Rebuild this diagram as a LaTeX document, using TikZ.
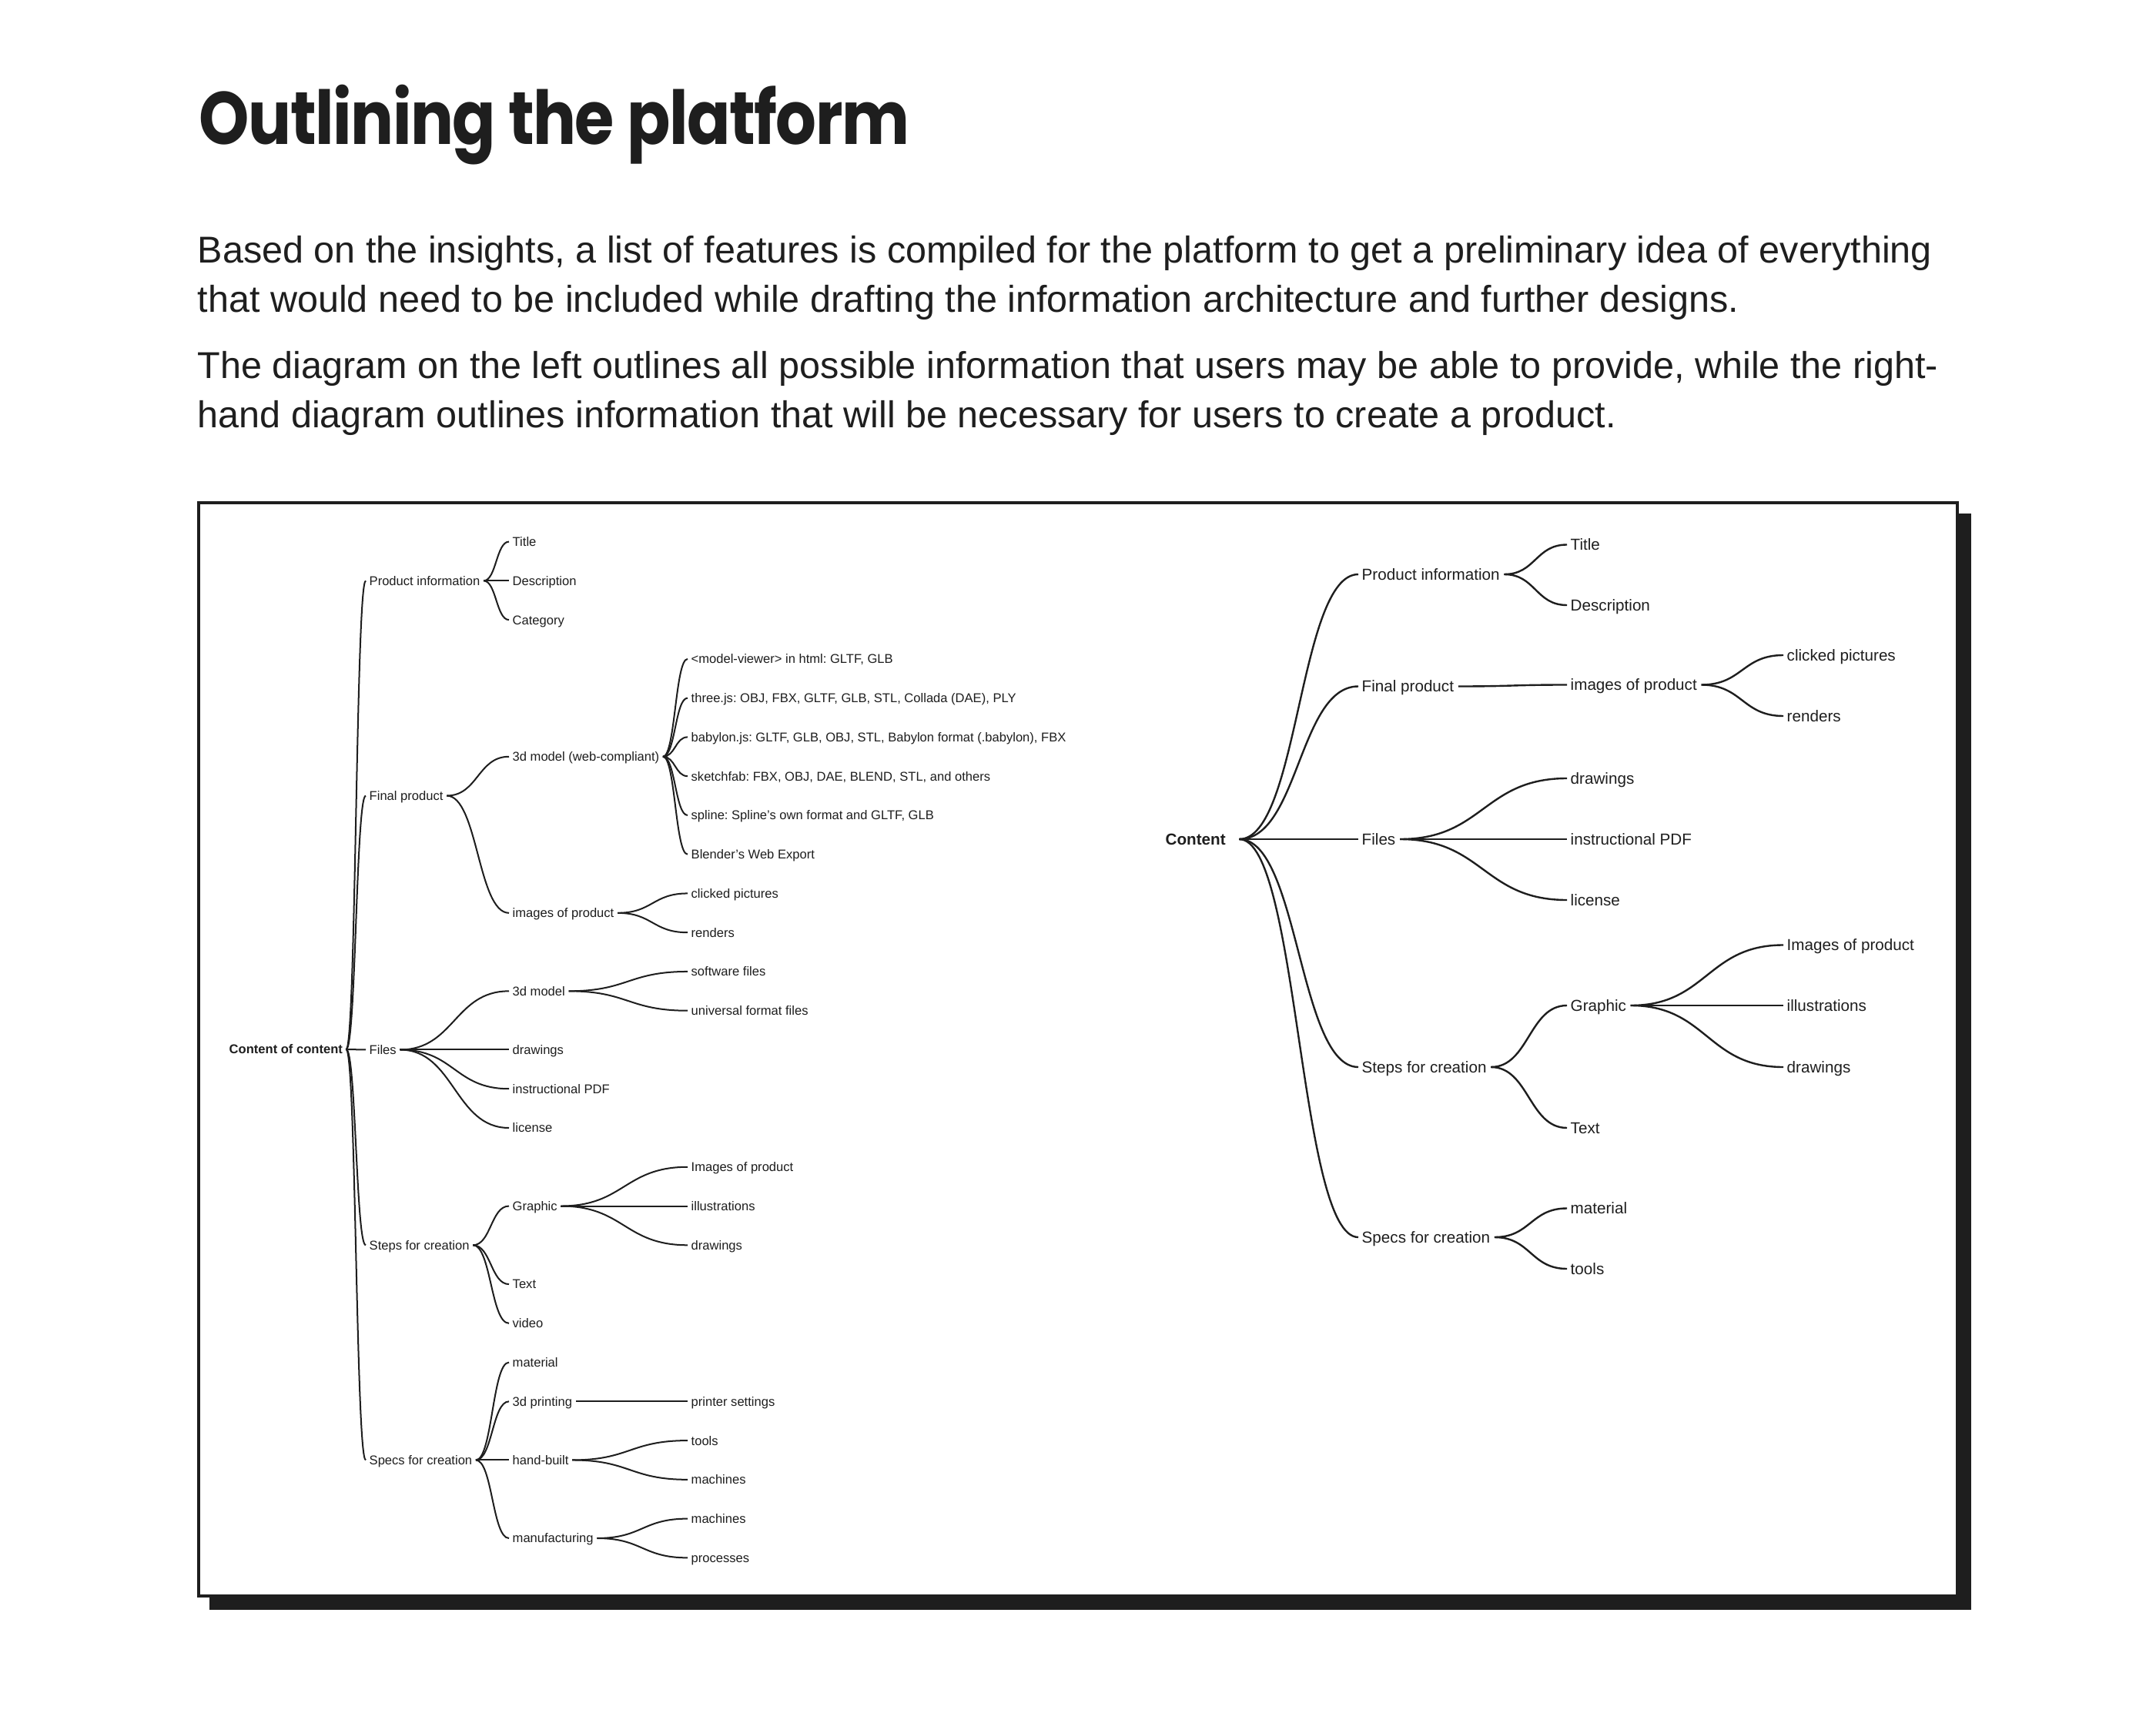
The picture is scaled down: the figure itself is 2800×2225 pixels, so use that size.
\documentclass[tikz,border=0pt]{standalone}
\usepackage{fontspec}
\setmainfont{Liberation Sans}
\newfontfamily\titlefont[FakeStretch=0.86, LetterSpace=-1.5]{Poppins}
\usetikzlibrary{calc}
\definecolor{ink}{HTML}{1E1E1E}
\newcommand\ry[1]{703.6+50.76*(#1)}
\newcommand\lnk[3][4]{\draw[link] let \p1=($(#2.east)+(#1,0)$), \p2=($(#3.west)+(-4,0)$) in (\p1) .. controls ({(\x1+\x2)/2},\y1) and ({(\x1+\x2)/2},\y2) .. (\p2);}
\tikzset{
  body/.style={anchor=base west, inner sep=0, text=ink, font=\fontsize{13.8pt}{16pt}\selectfont},
  lt/.style={anchor=west, inner sep=0, text=ink, text height=3.37pt, text depth=0pt, font=\fontsize{4.71pt}{5.5pt}\selectfont},
  rt/.style={anchor=west, inner sep=0, text=ink, text height=4.2pt, text depth=0pt, font=\fontsize{5.87pt}{7pt}\selectfont},
}
\frenchspacing
\begin{document}
\frenchspacing
\begin{tikzpicture}[x=0.01cm,y=-0.01cm]
\useasboundingbox[fill=white] (0,0) rectangle (2800,2225);
% heading and text
\node[anchor=base west, inner sep=0, text=ink] (title) at (258,188) {\resizebox{9.22cm}{!}{\titlefont\bfseries Outlining the platform}};
\node[body] (p1) at (256,342) {Based on the insights, a list of features is compiled for the platform to get a preliminary idea of everything};
\node[body] (p2) at (256,406) {that would need to be included while drafting the information architecture and further designs.};
\node[body] (p3) at (256,492) {The diagram on the left outlines all possible information that users may be able to provide, while the right-};
\node[body] (p4) at (256,556) {hand diagram outlines information that will be necessary for users to create a product.};
% frame with shadow
\fill[ink] (272,667) rectangle (2560,2091);
\draw[ink, line width=1.138pt, fill=white] (258,653) rectangle (2542,2073);

% ---------- left tree ----------
\begin{scope}[link/.style={draw=ink, line width=0.57pt}]
\node[lt, font=\fontsize{4.71pt}{5.5pt}\selectfont\bfseries] (L0) at (297,1363) {Content of content};
\node[lt] (Lpi) at (479,{\ry{1}}) {Product information};
\node[lt] (Lfp) at (479,{\ry{6.5}}) {Final product};
\node[lt] (Lfi) at (479,{\ry{13}}) {Files};
\node[lt] (Lst) at (479,{\ry{18}}) {Steps for creation};
\node[lt] (Lsp) at (479,{\ry{23.5}}) {Specs for creation};
% level 2
\node[lt] (Ltitle) at (665,{\ry{0}}) {Title};
\node[lt] (Ldesc) at (665,{\ry{1}}) {Description};
\node[lt] (Lcat) at (665,{\ry{2}}) {Category};
\node[lt] (Lweb) at (665,{\ry{5.5}}) {3d model (web-compliant)};
\node[lt] (Limg) at (665,{\ry{9.5}}) {images of product};
\node[lt] (L3dm) at (665,{\ry{11.5}}) {3d model};
\node[lt] (Ldraw) at (665,{\ry{13}}) {drawings};
\node[lt] (Lpdf) at (665,{\ry{14}}) {instructional PDF};
\node[lt] (Llic) at (665,{\ry{15}}) {license};
\node[lt] (Lgra) at (665,{\ry{17}}) {Graphic};
\node[lt] (Ltext) at (665,{\ry{19}}) {Text};
\node[lt] (Lvid) at (665,{\ry{20}}) {video};
\node[lt] (Lmat) at (665,{\ry{21}}) {material};
\node[lt] (Lprint) at (665,{\ry{22}}) {3d printing};
\node[lt] (Lhand) at (665,{\ry{23.5}}) {hand-built};
\node[lt] (Lman) at (665,{\ry{25.5}}) {manufacturing};
% level 3
\node[lt] (Lw1) at (897,{\ry{3}}) {<model-viewer> in html: GLTF, GLB};
\node[lt] (Lw2) at (897,{\ry{4}}) {three.js: OBJ, FBX, GLTF, GLB, STL, Collada (DAE), PLY};
\node[lt] (Lw3) at (897,{\ry{5}}) {babylon.js: GLTF, GLB, OBJ, STL, Babylon format (.babylon), FBX};
\node[lt] (Lw4) at (897,{\ry{6}}) {sketchfab: FBX, OBJ, DAE, BLEND, STL, and others};
\node[lt] (Lw5) at (897,{\ry{7}}) {spline: Spline's own format and GLTF, GLB};
\node[lt] (Lw6) at (897,{\ry{8}}) {Blender’s Web Export};
\node[lt] (Lclick) at (897,{\ry{9}}) {clicked pictures};
\node[lt] (Lrend) at (897,{\ry{10}}) {renders};
\node[lt] (Lsoft) at (897,{\ry{11}}) {software files};
\node[lt] (Luni) at (897,{\ry{12}}) {universal format files};
\node[lt] (Lgimg) at (897,{\ry{16}}) {Images of product};
\node[lt] (Lill) at (897,{\ry{17}}) {illustrations};
\node[lt] (Lgdraw) at (897,{\ry{18}}) {drawings};
\node[lt] (Lps) at (897,{\ry{22}}) {printer settings};
\node[lt] (Ltools) at (897,{\ry{23}}) {tools};
\node[lt] (Lmach1) at (897,{\ry{24}}) {machines};
\node[lt] (Lmach2) at (897,{\ry{25}}) {machines};
\node[lt] (Lproc) at (897,{\ry{26}}) {processes};
% links
\foreach \c in {Lpi,Lfp,Lfi,Lst,Lsp} {\lnk{L0}{\c}}
\foreach \c in {Ltitle,Ldesc,Lcat} {\lnk{Lpi}{\c}}
\foreach \c in {Lweb,Limg} {\lnk{Lfp}{\c}}
\foreach \c in {Lw1,Lw2,Lw3,Lw4,Lw5,Lw6} {\lnk{Lweb}{\c}}
\foreach \c in {Lclick,Lrend} {\lnk{Limg}{\c}}
\foreach \c in {L3dm,Ldraw,Lpdf,Llic} {\lnk{Lfi}{\c}}
\foreach \c in {Lsoft,Luni} {\lnk{L3dm}{\c}}
\foreach \c in {Lgra,Ltext,Lvid} {\lnk{Lst}{\c}}
\foreach \c in {Lgimg,Lill,Lgdraw} {\lnk{Lgra}{\c}}
\foreach \c in {Lmat,Lprint,Lhand,Lman} {\lnk{Lsp}{\c}}
\lnk{Lprint}{Lps}
\foreach \c in {Ltools,Lmach1} {\lnk{Lhand}{\c}}
\foreach \c in {Lmach2,Lproc} {\lnk{Lman}{\c}}
\end{scope}

% ---------- right tree ----------
\begin{scope}[link/.style={draw=ink, line width=0.68pt}]
\node[rt, font=\fontsize{5.87pt}{7pt}\selectfont\bfseries] (R0) at (1513,1090) {Content};
\node[rt] (Rpi) at (1768,746) {Product information};
\node[rt] (Rfp) at (1768,891.5) {Final product};
\node[rt] (Rfi) at (1768,1090) {Files};
\node[rt] (Rst) at (1768,1386) {Steps for creation};
\node[rt] (Rsp) at (1768,1607) {Specs for creation};
\node[rt] (Rtitle) at (2039,707.5) {Title};
\node[rt] (Rdesc) at (2039,786) {Description};
\node[rt] (Rimg) at (2039,889.5) {images of product};
\node[rt] (Rdraw) at (2039,1011) {drawings};
\node[rt] (Rpdf) at (2039,1090) {instructional PDF};
\node[rt] (Rlic) at (2039,1169) {license};
\node[rt] (Rgra) at (2039,1306) {Graphic};
\node[rt] (Rtext) at (2039,1465) {Text};
\node[rt] (Rmat) at (2039,1569.5) {material};
\node[rt] (Rtools) at (2039,1648) {tools};
\node[rt] (Rclick) at (2320,851) {clicked pictures};
\node[rt] (Rrend) at (2320,930) {renders};
\node[rt] (Rgimg) at (2320,1227.5) {Images of product};
\node[rt] (Rill) at (2320,1306) {illustrations};
\node[rt] (Rgdraw) at (2320,1386) {drawings};
\foreach \c in {Rpi,Rfp,Rfi,Rst,Rsp} {\lnk[17]{R0}{\c}}
\foreach \c in {Rtitle,Rdesc} {\lnk[5]{Rpi}{\c}}
\lnk[5]{Rfp}{Rimg}
\foreach \c in {Rclick,Rrend} {\lnk[5]{Rimg}{\c}}
\foreach \c in {Rdraw,Rpdf,Rlic} {\lnk[5]{Rfi}{\c}}
\foreach \c in {Rgra,Rtext} {\lnk[5]{Rst}{\c}}
\foreach \c in {Rgimg,Rill,Rgdraw} {\lnk[5]{Rgra}{\c}}
\foreach \c in {Rmat,Rtools} {\lnk[5]{Rsp}{\c}}
\end{scope}
\end{tikzpicture}
\end{document}
